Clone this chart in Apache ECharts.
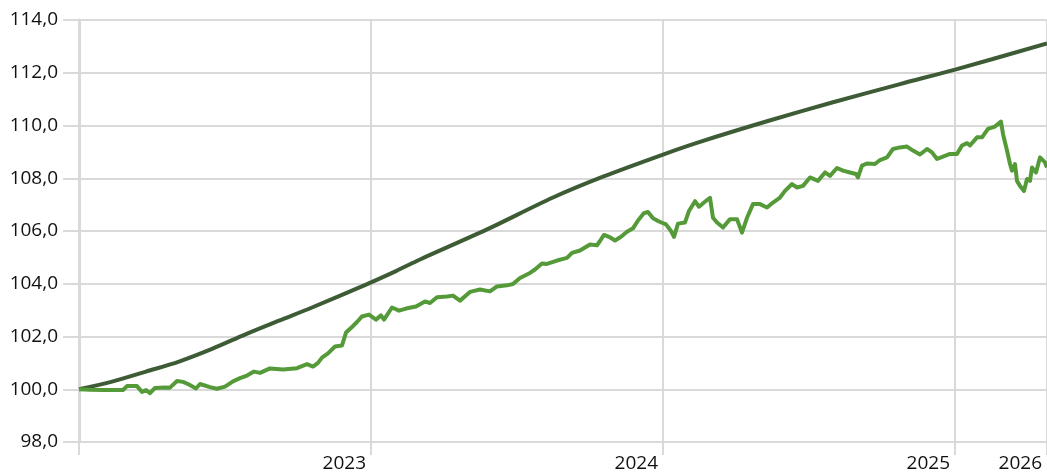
<!DOCTYPE html>
<html>
<head>
<meta charset="utf-8">
<script src="https://cdn.jsdelivr.net/npm/echarts@6/dist/echarts.min.js"></script>
<style>
  html, body { margin: 0; padding: 0; background: #fff; }
  #chart { width: 1047px; height: 473px; }
</style>
</head>
<body>
<div id="chart"></div>
<script>
var startYear = 2022;
var endYear = 2025.3151;
var xTickLabels = ['', '2023', '2024', '2025', '2026'];

// trend line: years since start, index value
var trendT = [0, 0.113, 0.2295, 0.3425, 0.4555, 0.5719, 0.6849, 0.7979, 0.9829, 1.0856, 1.1678,
  1.3973, 1.6233, 1.7945, 2.0, 2.1267, 2.3562, 2.5822, 2.8116, 3.0034, 3.3151];
var trendV = [100, 100.29, 100.67, 101.05, 101.53, 102.09, 102.60, 103.10, 103.97, 104.48, 104.92,
  106.06, 107.27, 108.06, 108.90, 109.38, 110.16, 110.88, 111.57, 112.13, 113.11];

// actual index: years since start, index value
var indexT = [0, 0.0377, 0.0822, 0.1233, 0.1507, 0.1644, 0.1986, 0.2158, 0.2295, 0.2432, 0.2603,
  0.2945, 0.3116, 0.3356, 0.3562, 0.3733, 0.4007, 0.4144, 0.4486, 0.4726, 0.5, 0.5274, 0.5514,
  0.5753, 0.5993, 0.6199, 0.6541, 0.6986, 0.7466, 0.7808, 0.8014, 0.8185, 0.8322, 0.8527, 0.8767,
  0.9007, 0.9144, 0.9349, 0.9521, 0.9692, 0.9932, 1.0171, 1.0342, 1.0445, 1.0719, 1.0959, 1.1199,
  1.1541, 1.1849, 1.2021, 1.2260, 1.2603, 1.2808, 1.3048, 1.3390, 1.3733, 1.4075, 1.4315, 1.4658,
  1.4863, 1.5103, 1.5445, 1.5616, 1.5856, 1.6027, 1.6370, 1.6712, 1.6884, 1.7158, 1.75, 1.7740,
  1.7842, 1.7979, 1.8151, 1.8356, 1.8562, 1.8767, 1.8973, 1.9144, 1.9349, 1.9486, 1.9658, 1.9863,
  2.0103, 2.0274, 2.0377, 2.0514, 2.0753, 2.0890, 2.1096, 2.1233, 2.1404, 2.1610, 2.1712, 2.1849,
  2.2055, 2.2295, 2.2534, 2.2705, 2.2877, 2.3082, 2.3322, 2.3562, 2.3767, 2.4007, 2.4178, 2.4418,
  2.4589, 2.4795, 2.5034, 2.5308, 2.5548, 2.5719, 2.5959, 2.6164, 2.6404, 2.6610, 2.6678, 2.6815,
  2.6986, 2.7260, 2.7432, 2.7671, 2.7877, 2.8116, 2.8356, 2.8562, 2.8801, 2.9041, 2.9212, 2.9384,
  2.9589, 2.9829, 3.0068, 3.0240, 3.0411, 3.0514, 3.0753, 3.0925, 3.1130, 3.1370, 3.1575, 3.1644,
  3.1781, 3.1884, 3.1952, 3.2055, 3.2123, 3.2226, 3.2363, 3.2466, 3.2568, 3.2637, 3.2774, 3.2911,
  3.3082, 3.3151];
var indexV = [100.00, 99.98, 99.97, 99.97, 99.97, 100.12, 100.12, 99.90, 99.97, 99.85, 100.05,
  100.07, 100.06, 100.31, 100.28, 100.20, 100.03, 100.20, 100.08, 100.02, 100.10, 100.30, 100.42,
  100.52, 100.67, 100.62, 100.79, 100.75, 100.80, 100.95, 100.86, 101.00, 101.20, 101.36, 101.62,
  101.66, 102.15, 102.36, 102.55, 102.76, 102.83, 102.64, 102.80, 102.64, 103.10, 102.98, 103.06,
  103.14, 103.33, 103.27, 103.49, 103.52, 103.55, 103.36, 103.69, 103.78, 103.71, 103.90, 103.94,
  103.99, 104.22, 104.41, 104.54, 104.77, 104.75, 104.88, 104.98, 105.17, 105.26, 105.49, 105.46,
  105.62, 105.85, 105.78, 105.64, 105.78, 105.97, 106.10, 106.40, 106.68, 106.72, 106.48, 106.36,
  106.25, 106.00, 105.78, 106.28, 106.32, 106.76, 107.13, 106.92, 107.08, 107.26, 106.50, 106.32,
  106.13, 106.45, 106.45, 105.94, 106.50, 107.02, 107.02, 106.89, 107.08, 107.27, 107.52, 107.78,
  107.65, 107.71, 108.03, 107.90, 108.22, 108.09, 108.39, 108.29, 108.22, 108.16, 108.03, 108.48,
  108.56, 108.54, 108.69, 108.79, 109.11, 109.17, 109.20, 109.05, 108.90, 109.11, 108.98, 108.73,
  108.82, 108.92, 108.92, 109.24, 109.33, 109.24, 109.55, 109.55, 109.87, 109.96, 110.15, 109.68,
  109.05, 108.54, 108.29, 108.54, 107.90, 107.71, 107.52, 107.97, 107.90, 108.41, 108.22, 108.79,
  108.60, 108.41];

function toPoints(ts, vs) {
  return ts.map(function (t, i) { return [startYear + t, vs[i]]; });
}

var chart = echarts.init(document.getElementById('chart'));
var gridColor = '#d9d9d9';
var labelFont = { color: '#111', fontSize: 19, fontFamily: 'Open Sans' };

var option = {
  animation: false,
  grid: { left: 79, right: 0, top: 20, bottom: 31, outerBoundsMode: 'none' },
  xAxis: {
    type: 'value',
    min: startYear,
    max: endYear,
    interval: 1,
    axisLine: { show: false },
    axisTick: { show: true, length: 13, lineStyle: { color: gridColor, width: 2 } },
    splitLine: { show: true, lineStyle: { color: gridColor, width: 2 } },
    axisLabel: Object.assign({
      margin: 12,
      align: 'right',
      padding: [0, 5, 0, 0],
      showMinLabel: true,
      showMaxLabel: true,
      formatter: function (v, i) { return xTickLabels[i] || ''; }
    }, labelFont)
  },
  yAxis: {
    type: 'value',
    min: 98,
    max: 114,
    interval: 2,
    axisLine: { show: true, lineStyle: { color: gridColor, width: 3 } },
    axisTick: { show: true, length: 16, lineStyle: { color: gridColor, width: 2 } },
    splitLine: { show: true, lineStyle: { color: gridColor, width: 2 } },
    axisLabel: Object.assign({
      margin: 21,
      formatter: function (v) { return v.toFixed(1).replace('.', ','); }
    }, labelFont)
  },
  series: [
    {
      type: 'line',
      data: toPoints(trendT, trendV),
      smooth: 0.3,
      showSymbol: false,
      lineStyle: { color: '#3d5c35', width: 4 }
    },
    {
      type: 'line',
      data: toPoints(indexT, indexV),
      showSymbol: false,
      lineStyle: { color: '#559a38', width: 4, join: 'round' }
    }
  ]
};

chart.setOption(option);

window.onresize = function () {
  chart.resize();
};
</script>
</body>
</html>
